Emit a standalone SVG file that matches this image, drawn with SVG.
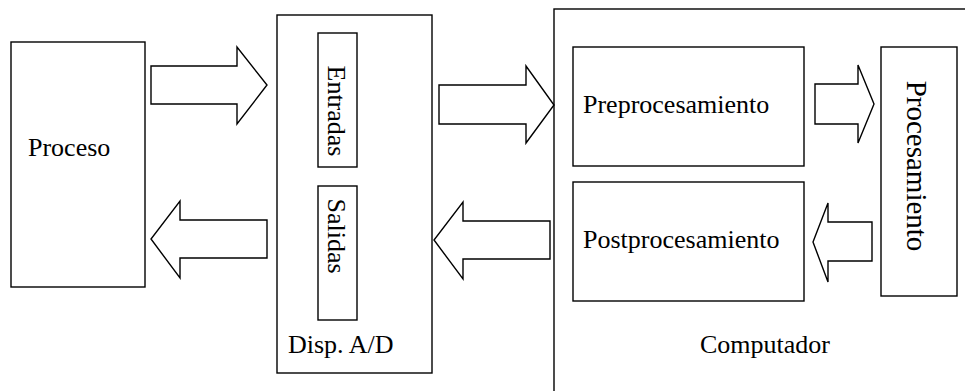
<svg xmlns="http://www.w3.org/2000/svg" width="965" height="391" viewBox="0 0 965 391">
  <style>
    .box { fill: #ffffff; stroke: #000000; stroke-width: 1.4; }
    .arrow { fill: #ffffff; stroke: #000000; stroke-width: 1.4; stroke-linejoin: miter; }
    .lbl { font-family: "Liberation Serif", "Times New Roman", serif; font-size: 26px; fill: #000000; }
  </style>
  <rect width="965" height="391" fill="#ffffff"/>

  <!-- Computador (open frame running off the right and bottom) -->
  <g id="computador">
    <rect class="box" x="554" y="9" width="430" height="400"/>
    <text class="lbl" x="765" y="353" text-anchor="middle">Computador</text>
  </g>

  <g id="proceso">
    <rect class="box" x="11" y="42" width="134" height="245"/>
    <text class="lbl" x="28" y="156">Proceso</text>
  </g>

  <g id="disp-ad">
    <rect class="box" x="277" y="15" width="155" height="358"/>
    <text class="lbl" x="288" y="353">Disp. A/D</text>
  </g>

  <g id="entradas">
    <rect class="box" x="318" y="33" width="39" height="134"/>
    <text class="lbl" transform="translate(328,111) rotate(90)" text-anchor="middle">Entradas</text>
  </g>

  <g id="salidas">
    <rect class="box" x="318" y="186" width="39" height="134"/>
    <text class="lbl" transform="translate(328,236) rotate(90)" text-anchor="middle">Salidas</text>
  </g>

  <g id="preprocesamiento">
    <rect class="box" x="573" y="47" width="231" height="119"/>
    <text class="lbl" x="583" y="113">Preprocesamiento</text>
  </g>

  <g id="postprocesamiento">
    <rect class="box" x="573" y="182" width="231" height="119"/>
    <text class="lbl" x="583" y="248">Postprocesamiento</text>
  </g>

  <g id="procesamiento">
    <rect class="box" x="881" y="47" width="76" height="249"/>
    <text class="lbl" transform="translate(907,166) rotate(90)" text-anchor="middle" style="font-size:29px">Procesamiento</text>
  </g>

  <!-- block arrows between the stages -->
  <g id="connectors">
    <polygon class="arrow" points="151,66 237,66 237,47 267,85 237,124 237,104 151,104"/>
    <polygon class="arrow" points="267,220 180,220 180,201 151,239 180,278 180,258 267,258"/>
    <polygon class="arrow" points="439,85 526,85 526,66 554,105 526,143 526,124 439,124"/>
    <polygon class="arrow" points="550,221 463,221 463,202 434,240 463,279 463,259 550,259"/>
    <polygon class="arrow" points="815,84 858,84 858,65 874,104 858,143 858,124 815,124"/>
    <polygon class="arrow" points="872,222 828,222 828,203 813,242 828,282 828,261 872,261"/>
  </g>
</svg>
